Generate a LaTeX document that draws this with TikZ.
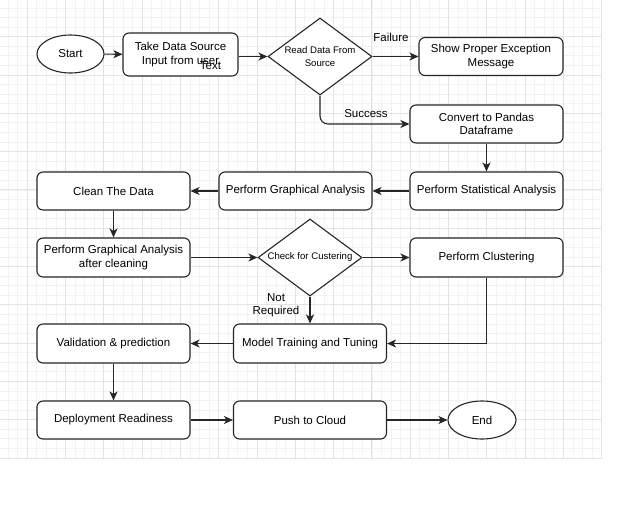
\documentclass[tikz,border=0pt]{standalone}
\usepackage{fontspec}
\setmainfont{Liberation Sans}
\usetikzlibrary{shapes.geometric,arrows.meta}
\newcommand\decide[3]{\node[decide] (#1) at (#2) {}; \node[dlabel] at (#1) {#3};}
\newcommand\connect[2]{\draw[flow] (#1) -- (#2);}

\begin{document}
\begin{tikzpicture}[x=1pt,y=-1pt]
\tikzstyle{minorgrid}=[draw=black!5,line width=0.8pt]
\tikzstyle{majorgrid}=[draw=black!11,line width=0.9pt]
\tikzstyle{proc}=[draw=black!85,fill=white,rectangle,rounded corners=6pt,line width=1.1pt,minimum width=153pt,minimum height=38pt,align=center,inner sep=2pt,font=\fontsize{11.5}{13.2}\selectfont]
\tikzstyle{term}=[draw=black!85,fill=white,ellipse,line width=1.1pt,minimum width=67pt,minimum height=38pt,inner sep=0pt,font=\fontsize{11.5}{13.2}\selectfont]
\tikzstyle{decide}=[draw=black!85,fill=white,diamond,line width=1.1pt,minimum width=104pt,minimum height=77pt,inner sep=0pt]
\tikzstyle{dlabel}=[align=center,font=\fontsize{9.6}{12.7}\selectfont]
\tikzstyle{elabel}=[align=center,font=\fontsize{11.5}{13.5}\selectfont]
\tikzstyle{flow}=[draw=black!85,line width=1.1pt,-{Stealth[length=9pt,width=8pt,inset=2.5pt]}]

\fill[white] (0,0) rectangle (644,512);
\useasboundingbox (0,0) rectangle (644,512);

%% grid
\foreach \i in {0,...,62} \draw[minorgrid] ({601.7-9.575*\i},0) -- ({601.7-9.575*\i},458);
\foreach \j in {0,...,47} \draw[minorgrid] (0,{458-9.575*\j}) -- (601.7,{458-9.575*\j});
\foreach \i in {0,...,15} \draw[majorgrid] ({601.7-38.3*\i},0) -- ({601.7-38.3*\i},458);
\foreach \j in {0,...,11} \draw[majorgrid] (0,{458-38.3*\j}) -- (601.7,{458-38.3*\j});

%% steps
\node[term] (start) at (70.5,54) {Start};
\node[proc,minimum width=115pt,minimum height=43pt] (source) at (180.5,54.5) {Take Data Source\\Input from user};
\node[elabel] (stray) at (210.5,66) {Text};
\decide{read}{320,56.5}{Read Data From\\Source}
\node[proc,minimum width=144pt] (error) at (491,56.5) {Show Proper Exception\\Message};
\node[proc] (pandas) at (486.5,124) {Convert to Pandas\\Dataframe};
\node[proc] (stats) at (486.5,191) {Perform Statistical Analysis};
\node[proc] (graph) at (295.5,191) {Perform Graphical Analysis};
\node[proc] (clean) at (113.5,191) {Clean The Data};
\node[proc,minimum height=39pt] (regraph) at (113.5,257.5) {Perform Graphical Analysis\\after cleaning};
\decide{check}{310,257.5}{Check for Custering}
\node[proc,minimum height=39pt] (clust) at (486.5,257.5) {Perform Clustering};
\node[proc,minimum height=39pt] (model) at (310,343.5) {Model Training and Tuning};
\node[proc,minimum height=39pt] (valid) at (113.5,343.5) {Validation \& prediction};
\node[proc] (deploy) at (113.5,420) {Deployment Readiness};
\node[proc] (cloud) at (310,420) {Push to Cloud};
\node[term,minimum width=68pt] (end) at (482,420) {End};

%% edge labels
\node[elabel] (failure) at (391,37) {Failure};
\node[elabel] (success) at (366,114) {Success};
\node[elabel] (notreq) at (276,305) {Not\\Required};

%% connections
\connect{start}{source}
\draw[flow] (source.east |- read) -- (read.west);
\connect{read.east}{error.west}
\draw[flow,rounded corners=8pt] (read.south) |- (pandas.west);
\connect{pandas}{stats}
\connect{stats}{graph}
\connect{graph}{clean}
\connect{clean}{regraph}
\connect{regraph}{check}
\connect{check}{clust}
\connect{check.south}{model.north}
\draw[flow] (clust.south) |- (model.east);
\connect{model}{valid}
\connect{valid}{deploy}
\connect{deploy}{cloud}
\connect{cloud}{end}
\end{tikzpicture}
\end{document}
